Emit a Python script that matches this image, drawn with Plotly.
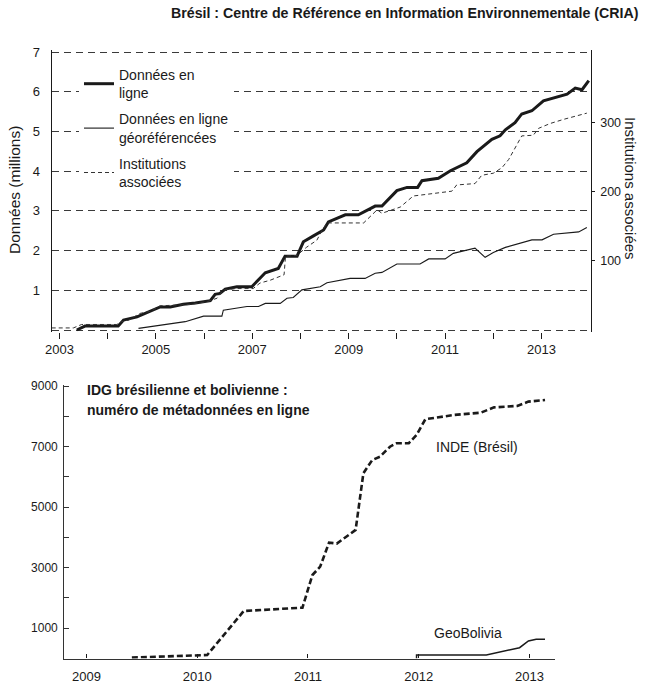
import plotly.graph_objects as go

# ---------------- data : top chart (CRIA) ----------------
cria_years = [2003.36, 2003.53, 2004.22, 2004.33, 2004.61, 2004.84, 2005.09, 2005.30, 2005.57, 2005.82,
              2006.13, 2006.23, 2006.33, 2006.44, 2006.68, 2006.99, 2007.13, 2007.27, 2007.54, 2007.68,
              2007.93, 2008.06, 2008.27, 2008.41, 2008.48, 2008.58, 2008.93, 2009.20, 2009.41, 2009.55,
              2009.69, 2010.00, 2010.21, 2010.43, 2010.52, 2010.86, 2011.11, 2011.31, 2011.45, 2011.66,
              2011.97, 2012.14, 2012.25, 2012.45, 2012.59, 2012.80, 2013.04, 2013.53, 2013.70, 2013.84,
              2013.98]
cria_online = [0.00, 0.10, 0.10, 0.25, 0.33, 0.45, 0.58, 0.58, 0.65, 0.68,
               0.74, 0.90, 0.92, 1.03, 1.09, 1.09, 1.26, 1.44, 1.55, 1.86,
               1.86, 2.22, 2.37, 2.48, 2.52, 2.72, 2.90, 2.90, 3.02, 3.12,
               3.12, 3.51, 3.59, 3.59, 3.76, 3.82, 4.01, 4.13, 4.21, 4.49,
               4.80, 4.89, 5.04, 5.22, 5.44, 5.52, 5.77, 5.94, 6.09, 6.05,
               6.28]

geo_years = [2004.64, 2005.61, 2005.99, 2006.37, 2006.40, 2006.75, 2006.89, 2007.13, 2007.27, 2007.58,
             2007.72, 2007.85, 2008.03, 2008.41, 2008.55, 2009.03, 2009.34, 2009.55, 2009.69, 2010.00,
             2010.48, 2010.66, 2011.00, 2011.17, 2011.31, 2011.62, 2011.83, 2012.00, 2012.25, 2012.49,
             2012.80, 2013.01, 2013.25, 2013.77, 2013.94]
geo_online = [0.04, 0.21, 0.35, 0.35, 0.50, 0.56, 0.59, 0.59, 0.67, 0.67,
              0.80, 0.82, 1.01, 1.09, 1.19, 1.30, 1.30, 1.43, 1.45, 1.66,
              1.66, 1.79, 1.79, 1.93, 1.97, 2.06, 1.83, 1.95, 2.08, 2.17,
              2.27, 2.27, 2.41, 2.47, 2.58]

inst_years = [2002.84, 2003.29, 2003.46, 2004.19, 2004.29, 2004.43, 2004.67, 2004.88, 2005.09, 2005.71,
              2006.06, 2006.27, 2006.40, 2006.68, 2007.02, 2007.16, 2007.37, 2007.58, 2007.66, 2007.69,
              2007.93, 2008.06, 2008.13, 2008.34, 2008.43, 2008.55, 2009.31, 2009.59, 2009.69, 2010.07,
              2010.34, 2011.14, 2011.24, 2011.62, 2011.76, 2012.00, 2012.18, 2012.32, 2012.59, 2012.83,
              2012.94, 2013.18, 2013.46, 2013.94]
inst_count = [3, 3, 8, 8, 12, 14, 24, 27, 35, 37,
              41, 46, 58, 60, 60, 68, 72, 77, 80, 107,
              108, 116, 120, 130, 142, 155, 155, 174, 169, 178,
              194, 201, 210, 212, 224, 227, 235, 247, 281, 282,
              292, 299, 305, 314]

top_xticks = [2003, 2004, 2005, 2006, 2007, 2008, 2009, 2010, 2011, 2012, 2013]
top_xlabels = ["2003", "", "2005", "", "2007", "", "2009", "", "2011", "", "2013"]
top_yticks = [0, 1, 2, 3, 4, 5, 6, 7]
top_ylabels = ["", "1", "2", "3", "4", "5", "6", "7"]
inst_ticks = [100, 200, 300]

# ---------------- data : bottom chart (IDG) ----------------
inde_years = [2009.41, 2010.09, 2010.42, 2010.95, 2011.04, 2011.11, 2011.19, 2011.26, 2011.43, 2011.50,
              2011.58, 2011.65, 2011.74, 2011.80, 2011.91, 2011.98, 2012.06, 2012.32, 2012.56, 2012.68,
              2012.89, 2012.99, 2013.14]
inde_meta = [30, 115, 1570, 1680, 2760, 3035, 3830, 3800, 4250, 6120,
             6560, 6670, 7000, 7115, 7115, 7390, 7910, 8050, 8125, 8300,
             8350, 8490, 8545]
geob_years = [2011.98, 2011.98, 2012.61, 2012.76, 2012.91, 2012.99, 2013.06, 2013.14]
geob_meta = [0, 115, 115, 225, 357, 580, 635, 635]

bot_xticks = [2009, 2010, 2011, 2012, 2013]
bot_yticks = [1000, 2000, 3000, 4000, 5000, 6000, 7000, 8000, 9000]
bot_ylabels = ["1000", "", "3000", "", "5000", "", "7000", "", "9000"]

# ---------------- figure ----------------
FONT = "Liberation Sans, Arial, sans-serif"
W, H = 645, 686


def px_x(p):
    return p / W


def px_y(p):
    return 1 - p / H


fig = go.Figure()

fig.add_trace(go.Scatter(x=cria_years, y=cria_online, mode="lines", name="Données en<br>ligne",
                         line=dict(color="#1a1a1a", width=3), xaxis="x", yaxis="y",
                         legendgroup="a"))
fig.add_trace(go.Scatter(x=geo_years, y=geo_online, mode="lines", name="Données en ligne<br>géoréférencées",
                         line=dict(color="#1a1a1a", width=1.1), xaxis="x", yaxis="y",
                         legendgroup="b"))
fig.add_trace(go.Scatter(x=inst_years, y=inst_count, mode="lines", name="Institutions<br>associées",
                         line=dict(color="#333333", width=1, dash="4px,3px"), xaxis="x", yaxis="y2",
                         legendgroup="c"))
fig.add_trace(go.Scatter(x=inde_years, y=inde_meta, mode="lines", name="INDE (Brésil)",
                         line=dict(color="#1a1a1a", width=2.6, dash="6px,3px"), xaxis="x2", yaxis="y3",
                         showlegend=False))
fig.add_trace(go.Scatter(x=geob_years, y=geob_meta, mode="lines", name="GeoBolivia",
                         line=dict(color="#1a1a1a", width=1.5), xaxis="x2", yaxis="y3",
                         showlegend=False))

grid_pad = 1.6  # px, keeps edge gridlines visible
top_dom_y = [px_y(330 + grid_pad), px_y(52 - grid_pad)]
unit_px = 39.7
ypad = grid_pad / unit_px
inst_per_unit = 57.5

axis_font = dict(family=FONT, size=13, color="#1a1a1a")

fig.update_layout(
    width=W, height=H,
    margin=dict(l=0, r=0, t=0, b=0),
    paper_bgcolor="white", plot_bgcolor="white",
    font=dict(family=FONT, color="#1a1a1a"),
    showlegend=True,
    legend=dict(x=px_x(79), y=px_y(59), xanchor="left", yanchor="top",
                bgcolor="white", borderwidth=0, font=dict(family=FONT, size=14, color="#1a1a1a"),
                tracegroupgap=5, itemwidth=30),
    xaxis=dict(domain=[px_x(51.7), px_x(590.7)], range=[2002.84, 2014.02], anchor="y",
               tickvals=top_xticks, ticktext=top_xlabels, ticks="outside", ticklen=6,
               tickcolor="#1a1a1a", showline=False, showgrid=False, zeroline=False,
               tickfont=axis_font, ticklabelstandoff=0, automargin=False),
    yaxis=dict(domain=top_dom_y, range=[-ypad, 7 + ypad], anchor="x",
               tickvals=top_yticks, ticktext=top_ylabels, ticks="", showline=True,
               linecolor="#1a1a1a", linewidth=1, showgrid=True, gridcolor="#3a3a3a",
               griddash="7px,5px", gridwidth=1, zeroline=False, tickfont=axis_font,
               ticklabelstandoff=8, automargin=False),
    yaxis2=dict(domain=top_dom_y, overlaying="y", side="right", anchor="x",
                range=[-ypad * inst_per_unit, (7 + ypad) * inst_per_unit],
                tickvals=inst_ticks, ticks="outside", ticklen=3, tickcolor="#1a1a1a",
                showline=True, linecolor="#1a1a1a", linewidth=1, showgrid=False, zeroline=False,
                tickfont=dict(family=FONT, size=12.5, color="#1a1a1a"), ticklabelstandoff=3,
                automargin=False),
    xaxis2=dict(domain=[px_x(64.3), px_x(555)], range=[2008.80, 2013.23], anchor="y3",
                tickvals=bot_xticks, ticks="inside", ticklen=4, tickcolor="#1a1a1a",
                showline=True, linecolor="#333333", linewidth=1.3, showgrid=False, zeroline=False,
                tickfont=axis_font, ticklabelstandoff=6, automargin=False),
    yaxis3=dict(domain=[px_y(658.5), px_y(384.7)], range=[0, 9050], anchor="x2",
                tickvals=bot_yticks, ticktext=bot_ylabels, ticks="inside", ticklen=5,
                tickcolor="#333333", showline=True, linecolor="#333333", linewidth=1.3,
                showgrid=False, zeroline=False,
                tickfont=dict(family=FONT, size=12, color="#1a1a1a"), ticklabelstandoff=3,
                automargin=False),
)

annotations = [
    dict(text="<b>Brésil : Centre de Référence en Information Environnementale (CRIA)</b>",
         x=px_x(405), y=px_y(13), xanchor="center", yanchor="middle",
         font=dict(family=FONT, size=14.2, color="#1a1a1a")),
    dict(text="Données (millions)", textangle=-90, x=px_x(14), y=px_y(190),
         xanchor="center", yanchor="middle", font=dict(family=FONT, size=15.5, color="#1a1a1a")),
    dict(text="Institutions associées", textangle=90, x=px_x(630), y=px_y(188),
         xanchor="center", yanchor="middle", font=dict(family=FONT, size=15, color="#1a1a1a")),
    dict(text="<b>IDG brésilienne et bolivienne :</b>", x=px_x(85), y=px_y(390),
         xanchor="left", yanchor="middle", font=dict(family=FONT, size=14, color="#1a1a1a")),
    dict(text="<b>numéro de métadonnées en ligne</b>", x=px_x(85), y=px_y(410),
         xanchor="left", yanchor="middle", font=dict(family=FONT, size=14, color="#1a1a1a")),
    dict(text="INDE (Brésil)", x=px_x(477), y=px_y(447), xanchor="center", yanchor="middle",
         font=dict(family=FONT, size=14, color="#1a1a1a")),
    dict(text="GeoBolivia", x=px_x(468), y=px_y(633), xanchor="center", yanchor="middle",
         font=dict(family=FONT, size=14, color="#1a1a1a")),
]
for a in annotations:
    a.update(xref="paper", yref="paper", showarrow=False)
fig.update_layout(annotations=annotations)

fig.write_html("out.html", config={"displayModeBar": False},
               post_script="document.body.style.margin='0px';")
